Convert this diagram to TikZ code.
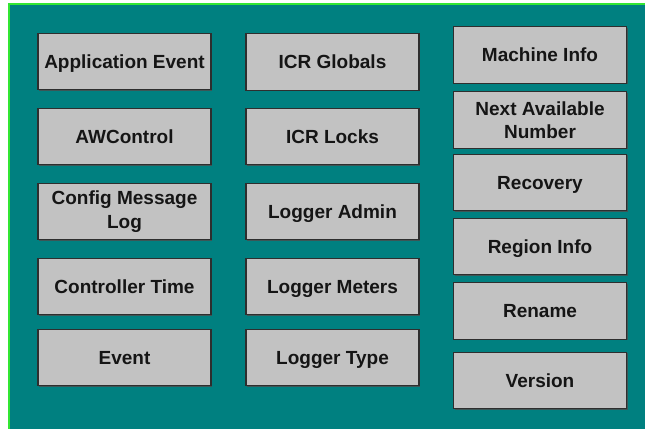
\documentclass[tikz,border=0pt]{standalone}
\usepackage{fontspec}
\setmainfont{Liberation Sans}
\usetikzlibrary{shadows}
\definecolor{teal0}{HTML}{008080}
\definecolor{edge0}{HTML}{33E633}
\definecolor{boxfill}{HTML}{C2C2C2}
\definecolor{boxline}{HTML}{2E2E2E}
\definecolor{txt}{HTML}{151515}
\tikzset{
  tbl/.style={draw=boxline, line width=1.1bp, fill=boxfill,
    minimum width=173bp, minimum height=56.5bp, inner sep=0pt,
    align=center, text=txt,
    font=\fontsize{19bp}{23.5bp}\selectfont\bfseries,
    drop shadow={shadow xshift=1bp, shadow yshift=-1bp, fill=black!70, opacity=0.8}},
  one/.style={text height=13.6bp, text depth=0pt},
}
\begin{document}
\begin{tikzpicture}[x=1bp,y=-1bp]
\useasboundingbox (0,0) rectangle (645,428);
\fill[white] (0,0) rectangle (645,428);
\begin{scope}
\clip (0,0) rectangle (645,428);
\draw[edge0, line width=2bp, fill=teal0] (9,4) rectangle (660,440);
\end{scope}
% column 1
\node[tbl,one] (appevent) at (124.5,61.5) {Application Event};
\node[tbl,one] (awcontrol) at (124.5,136.5) {AWControl};
\node[tbl] (configlog) at (124.5,211.5) {Config Message\\Log};
\node[tbl,one] (ctrltime) at (124.5,286.5) {Controller Time};
\node[tbl,one] (event) at (124.5,357.5) {Event};
% column 2
\node[tbl,one] (icrglobals) at (332.5,62) {ICR Globals};
\node[tbl,one] (icrlocks) at (332.5,136.5) {ICR Locks};
\node[tbl,one] (loggeradmin) at (332.5,211.5) {Logger Admin};
\node[tbl,one] (loggermeters) at (332.5,286.5) {Logger Meters};
\node[tbl,one] (loggertype) at (332.5,357.5) {Logger Type};
% column 3
\node[tbl,one] (machineinfo) at (540,55) {Machine Info};
\node[tbl] (nextnum) at (540,120) {Next Available\\Number};
\node[tbl,one] (recovery) at (540,182.5) {Recovery};
\node[tbl,one] (regioninfo) at (540,246.5) {Region Info};
\node[tbl,one] (rename) at (540,311) {Rename};
\node[tbl,one] (version) at (540,380.5) {Version};
\end{tikzpicture}
\end{document}
